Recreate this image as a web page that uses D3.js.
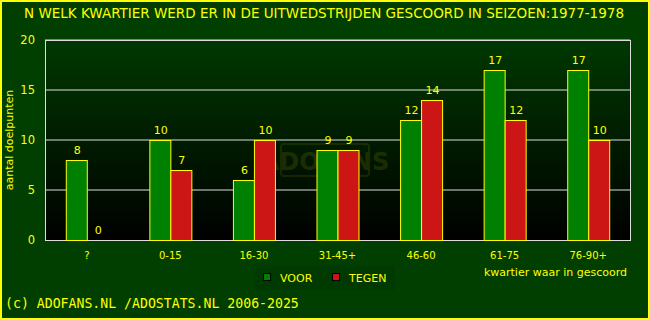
<!DOCTYPE html>
<html lang="nl">
  <head>
    <meta charset="UTF-8" />
    <title>kwartier</title>
    <style>
      body { margin: 0; background: #003f00; }
      svg { display: block; }
      text { font-family: 'DejaVu Sans', sans-serif; fill: #ffff00; }
    </style>
  </head>
  <body>
    <svg id="svg" width="650" height="320"></svg>
    <script src="https://cdn.jsdelivr.net/npm/d3@7/dist/d3.min.js"></script>
    <script>
      const categories = ['?', '0-15', '16-30', '31-45+', '46-60', '61-75', '76-90+']
      const voor = [8, 10, 6, 9, 12, 17, 17]
      const tegen = [0, 7, 10, 9, 14, 12, 10]
      const yTicks = [0, 5, 10, 15, 20]

      const svg = d3.select('#svg')
      const width = +svg.attr('width')
      const height = +svg.attr('height')
      const margin = { left: 45, top: 40, right: 20, bottom: 80 }
      const inner_width = width - margin.left - margin.right
      const inner_height = height - margin.top - margin.bottom

      // achtergrond + gele rand
      svg.append('rect').attr('x', 1).attr('y', 1).attr('width', width - 2).attr('height', height - 2)
        .attr('fill', '#003f00').attr('stroke', '#ffff00').attr('stroke-width', 2)

      const defs = svg.append('defs')
      const grad = defs.append('linearGradient').attr('id', 'bg').attr('x1', 0).attr('y1', 0).attr('x2', 0).attr('y2', 1)
      grad.append('stop').attr('offset', '0%').attr('stop-color', '#003800')
      grad.append('stop').attr('offset', '100%').attr('stop-color', '#000000')

      svg.append('text').attr('x', width / 2 - 1).attr('y', 18).attr('text-anchor', 'middle')
        .attr('font-size', 13.5).text('N WELK KWARTIER WERD ER IN DE UITWEDSTRIJDEN GESCOORD IN SEIZOEN:1977-1978')

      const g = svg.append('g').attr('transform', `translate(${margin.left},${margin.top})`)

      const x0 = d3.scaleBand().domain(categories).range([0, inner_width])
      const y = d3.scaleLinear().domain([0, 20]).range([inner_height, 0])
      const bw = 21

      g.append('rect').attr('width', inner_width).attr('height', inner_height).attr('fill', 'url(#bg)')

      // watermerk
      const wm = g.append('g').attr('opacity', 0.22)
      wm.append('rect').attr('x', 236).attr('y', 104).attr('width', 88).attr('height', 32).attr('rx', 3)
        .attr('fill', 'none').attr('stroke', '#707000').attr('stroke-width', 2)
      wm.append('text').attr('x', 280).attr('y', 130).attr('text-anchor', 'middle').attr('font-size', 24)
        .attr('font-weight', 'bold').style('fill', '#808000').text('ADOFANS')

      g.selectAll('.grid').data(yTicks.slice(1)).enter().append('line')
        .attr('x1', 0).attr('x2', inner_width).attr('y1', (d) => y(d)).attr('y2', (d) => y(d))
        .attr('stroke', '#dddddd').attr('stroke-width', 1)
      g.append('rect').attr('x', 0.5).attr('y', 0.5).attr('width', inner_width).attr('height', inner_height)
        .attr('fill', 'none').attr('stroke', '#dddddd')

      g.selectAll('.ylab').data(yTicks).enter().append('text')
        .attr('x', -10).attr('y', (d) => y(d) + 4).attr('text-anchor', 'end').attr('font-size', 11.5).text((d) => d)

      const series = [
        { key: 'VOOR', values: voor, color: '#008000', dx: -bw },
        { key: 'TEGEN', values: tegen, color: '#cc1515', dx: 0 },
      ]

      series.forEach((s) => {
        const grp = g.append('g')
        s.values.forEach((v, i) => {
          const cx = x0(categories[i]) + x0.bandwidth() / 2 + s.dx
          if (v > 0) {
            grp.append('rect').attr('x', cx + 0.5).attr('y', y(v) + 0.5).attr('width', bw).attr('height', inner_height - y(v))
              .attr('fill', s.color).attr('stroke', '#ffff00').attr('stroke-width', 1)
          }
          grp.append('text').attr('x', cx + bw / 2 + 1).attr('y', y(v) - 6).attr('text-anchor', 'middle')
            .attr('font-size', 11).text(v)
        })
      })

      g.selectAll('.xlab').data(categories).enter().append('text')
        .attr('x', (d) => x0(d) + x0.bandwidth() / 2).attr('y', inner_height + 19).attr('text-anchor', 'middle')
        .attr('font-size', 10).text((d) => d)

      svg.append('text').attr('x', 13).attr('y', margin.top + inner_height / 2).attr('text-anchor', 'middle')
        .attr('font-size', 11).attr('transform', `rotate(-90,13,${margin.top + inner_height / 2})`)
        .text('aantal doelpunten')

      svg.append('text').attr('x', 627).attr('y', 276).attr('text-anchor', 'end').attr('font-size', 11)
        .text('kwartier waar in gescoord')

      // legenda
      const leg = svg.append('g')
      leg.append('rect').attr('x', 255).attr('y', 266).attr('width', 140).attr('height', 24).attr('fill', '#003a00')
      series.forEach((s, i) => {
        const lx = 263 + i * 69
        leg.append('rect').attr('x', lx + 0.5).attr('y', 273.5).attr('width', 7).attr('height', 7)
          .attr('fill', s.color).attr('stroke', '#000')
        leg.append('text').attr('x', lx + 17).attr('y', 282).attr('font-size', 11).text(s.key)
      })

      svg.append('text').attr('x', 5).attr('y', 308).attr('font-size', 13.2)
        .style('font-family', "'DejaVu Sans Mono', monospace").text('(c) ADOFANS.NL /ADOSTATS.NL 2006-2025')
    </script>
  </body>
</html>
